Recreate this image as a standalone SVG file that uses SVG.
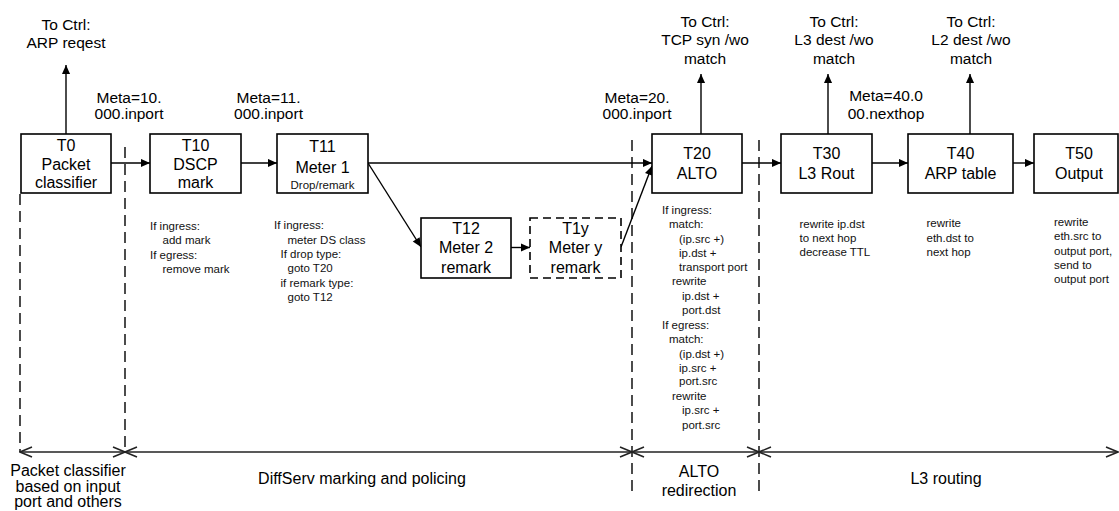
<svg xmlns="http://www.w3.org/2000/svg" width="1119" height="511" viewBox="0 0 1119 511">
<style>
  .box { fill: #fff; stroke: #000; stroke-width: 1.6; }
  .dbox { fill: #fff; stroke: #000; stroke-width: 1.6; stroke-dasharray: 8 5; }
  .t { font-family: "Liberation Sans", Arial, sans-serif; font-size: 16px; fill: #000; text-anchor: middle; }
  .lbl { font-family: "Liberation Sans", Arial, sans-serif; font-size: 15.5px; fill: #000; text-anchor: middle; }
  .sm { font-family: "Liberation Sans", Arial, sans-serif; font-size: 11.5px; fill: #111; }
  .smc { font-family: "Liberation Sans", Arial, sans-serif; font-size: 11.5px; fill: #111; text-anchor: middle; }
  .conn { stroke: #000; stroke-width: 1.4; fill: none; marker-end: url(#ah); }
  .sep { stroke: #000; stroke-width: 1.4; stroke-dasharray: 11 6; fill: none; }
  .bar { stroke: #222; stroke-width: 1.6; fill: none; marker-start: url(#oa); marker-end: url(#oa); }
</style>
<defs>
  <marker id="ah" viewBox="0 0 10 10" refX="10" refY="5" markerWidth="10" markerHeight="9" markerUnits="userSpaceOnUse" orient="auto">
    <path d="M0,0.5 L10,5 L0,9.5 Z" fill="#000"/>
  </marker>
  <marker id="oa" viewBox="0 0 14 12" refX="13" refY="6" markerWidth="14" markerHeight="12" markerUnits="userSpaceOnUse" orient="auto-start-reverse">
    <path d="M1,1 L13,6 L1,11" fill="none" stroke="#222" stroke-width="1.5"/>
  </marker>
</defs>

<!-- separators -->
<g id="separators">
  <line class="sep" x1="20" y1="194" x2="20" y2="452"/>
  <line class="sep" x1="125" y1="147" x2="125" y2="452"/>
  <line class="sep" x1="632" y1="140" x2="632" y2="493"/>
  <line class="sep" x1="759" y1="140" x2="759" y2="493"/>
</g>

<!-- connectors -->
<g id="connectors">
  <line class="conn" x1="111" y1="163" x2="150" y2="163"/>
  <line class="conn" x1="241" y1="163" x2="277" y2="163"/>
  <line class="conn" x1="368" y1="163" x2="652" y2="163"/>
  <line class="conn" x1="368" y1="163" x2="421" y2="247"/>
  <line class="conn" x1="511" y1="247.5" x2="530" y2="247.5"/>
  <line class="conn" x1="621" y1="247" x2="652" y2="166"/>
  <line class="conn" x1="742" y1="163" x2="781" y2="163"/>
  <line class="conn" x1="872" y1="163" x2="908" y2="163"/>
  <line class="conn" x1="1013" y1="163" x2="1034" y2="163"/>
  <line class="conn" x1="66" y1="134" x2="66" y2="65"/>
  <line class="conn" x1="701" y1="134" x2="701" y2="74"/>
  <line class="conn" x1="828" y1="134" x2="828" y2="74"/>
  <line class="conn" x1="970" y1="134" x2="970" y2="74"/>
  <!-- phase bar -->
  <line class="bar" x1="20" y1="452" x2="125" y2="452"/>
  <line class="bar" x1="125" y1="452" x2="632" y2="452"/>
  <line class="bar" x1="632" y1="452" x2="759" y2="452"/>
  <line class="bar" x1="759" y1="452" x2="1118" y2="452"/>
</g>

<!-- nodes -->
<g id="T0">
  <rect class="box" x="21" y="134" width="90" height="59"/>
  <text class="t" x="66" y="151">T0</text>
  <text class="t" x="66" y="169.5">Packet</text>
  <text class="t" x="66" y="188">classifier</text>
</g>
<g id="T10">
  <rect class="box" x="150" y="134" width="91" height="59"/>
  <text class="t" x="195.5" y="151">T10</text>
  <text class="t" x="195.5" y="169.5">DSCP</text>
  <text class="t" x="195.5" y="188">mark</text>
</g>
<g id="T11">
  <rect class="box" x="277" y="134" width="91" height="59"/>
  <text class="t" x="322.5" y="152">T11</text>
  <text class="t" x="322.5" y="173">Meter 1</text>
  <text class="smc" x="322.5" y="189">Drop/remark</text>
</g>
<g id="T12">
  <rect class="box" x="421" y="218" width="90" height="60"/>
  <text class="t" x="466" y="233.5">T12</text>
  <text class="t" x="466" y="253">Meter 2</text>
  <text class="t" x="466" y="272.5">remark</text>
</g>
<g id="T1y">
  <rect class="dbox" x="530" y="218" width="91" height="60"/>
  <text class="t" x="575.5" y="233.5">T1y</text>
  <text class="t" x="575.5" y="253">Meter y</text>
  <text class="t" x="575.5" y="272.5">remark</text>
</g>
<g id="T20">
  <rect class="box" x="652" y="134" width="90" height="59"/>
  <text class="t" x="697" y="159">T20</text>
  <text class="t" x="697" y="179">ALTO</text>
</g>
<g id="T30">
  <rect class="box" x="781" y="134" width="91" height="59"/>
  <text class="t" x="826.5" y="159">T30</text>
  <text class="t" x="826.5" y="179">L3 Rout</text>
</g>
<g id="T40">
  <rect class="box" x="908" y="134" width="105" height="59"/>
  <text class="t" x="960.5" y="159">T40</text>
  <text class="t" x="960.5" y="179">ARP table</text>
</g>
<g id="T50">
  <rect class="box" x="1034" y="134" width="84" height="59"/>
  <text class="t" x="1079" y="159">T50</text>
  <text class="t" x="1079" y="179">Output</text>
</g>

<!-- top labels -->
<g id="labels-top">
  <text class="lbl" x="66" y="30">To Ctrl:</text>
  <text class="lbl" x="66" y="48">ARP reqest</text>
  <text class="lbl" x="129" y="102.5">Meta=10.</text>
  <text class="lbl" x="129" y="118.5">000.inport</text>
  <text class="lbl" x="268.5" y="102.5">Meta=11.</text>
  <text class="lbl" x="268.5" y="118.5">000.inport</text>
  <text class="lbl" x="637" y="102.5">Meta=20.</text>
  <text class="lbl" x="637" y="118.5">000.inport</text>
  <text class="lbl" x="705" y="26.5">To Ctrl:</text>
  <text class="lbl" x="705" y="45">TCP syn /wo</text>
  <text class="lbl" x="705" y="63.5">match</text>
  <text class="lbl" x="834" y="26.5">To Ctrl:</text>
  <text class="lbl" x="834" y="45">L3 dest /wo</text>
  <text class="lbl" x="834" y="63.5">match</text>
  <text class="lbl" x="886" y="101">Meta=40.0</text>
  <text class="lbl" x="886" y="118.5">00.nexthop</text>
  <text class="lbl" x="971" y="26.5">To Ctrl:</text>
  <text class="lbl" x="971" y="45">L2 dest /wo</text>
  <text class="lbl" x="971" y="63.5">match</text>
</g>

<!-- notes -->
<g id="notes">
  <text class="sm" x="150" y="229.5">If ingress:</text>
  <text class="sm" x="162.5" y="244">add mark</text>
  <text class="sm" x="150" y="259">If egress:</text>
  <text class="sm" x="162.5" y="273">remove mark</text>

  <text class="sm" x="274" y="229">If ingress:</text>
  <text class="sm" x="287.5" y="243.5">meter DS class</text>
  <text class="sm" x="280.5" y="257.5">If drop type:</text>
  <text class="sm" x="287.5" y="272">goto T20</text>
  <text class="sm" x="280.5" y="286.5">if remark type:</text>
  <text class="sm" x="287.5" y="301">goto T12</text>

  <text class="sm" x="662" y="213.5">If ingress:</text>
  <text class="sm" x="669" y="227.5">match:</text>
  <text class="sm" x="679" y="242.5">(ip.src +)</text>
  <text class="sm" x="679" y="256.5">ip.dst +</text>
  <text class="sm" x="679" y="271">transport port</text>
  <text class="sm" x="672" y="285">rewrite</text>
  <text class="sm" x="682" y="300">ip.dst +</text>
  <text class="sm" x="682" y="313.5">port.dst</text>
  <text class="sm" x="662" y="328.5">If egress:</text>
  <text class="sm" x="669" y="342.5">match:</text>
  <text class="sm" x="679" y="357.5">(ip.dst +)</text>
  <text class="sm" x="679" y="371.5">ip.src +</text>
  <text class="sm" x="679" y="385">port.src</text>
  <text class="sm" x="672" y="400">rewrite</text>
  <text class="sm" x="682" y="414">ip.src +</text>
  <text class="sm" x="682" y="429">port.src</text>

  <text class="sm" x="799.5" y="227.5">rewrite ip.dst</text>
  <text class="sm" x="799.5" y="241.5">to next hop</text>
  <text class="sm" x="799.5" y="256">decrease TTL</text>

  <text class="sm" x="926.5" y="227">rewrite</text>
  <text class="sm" x="926.5" y="241.5">eth.dst to</text>
  <text class="sm" x="926.5" y="256">next hop</text>

  <text class="sm" x="1054" y="226">rewrite</text>
  <text class="sm" x="1054" y="240">eth.src to</text>
  <text class="sm" x="1054" y="254.5">output port,</text>
  <text class="sm" x="1054" y="268.5">send to</text>
  <text class="sm" x="1054" y="283">output port</text>
</g>

<!-- phase labels -->
<g id="labels-bottom">
  <text class="t" x="68" y="476">Packet classifier</text>
  <text class="t" x="68" y="492">based on input</text>
  <text class="t" x="68" y="507">port and others</text>
  <text class="t" x="362" y="483.5">DiffServ marking and policing</text>
  <text class="t" x="699" y="476.5">ALTO</text>
  <text class="t" x="699" y="495.5">redirection</text>
  <text class="t" x="946" y="483.5">L3 routing</text>
</g>
</svg>
